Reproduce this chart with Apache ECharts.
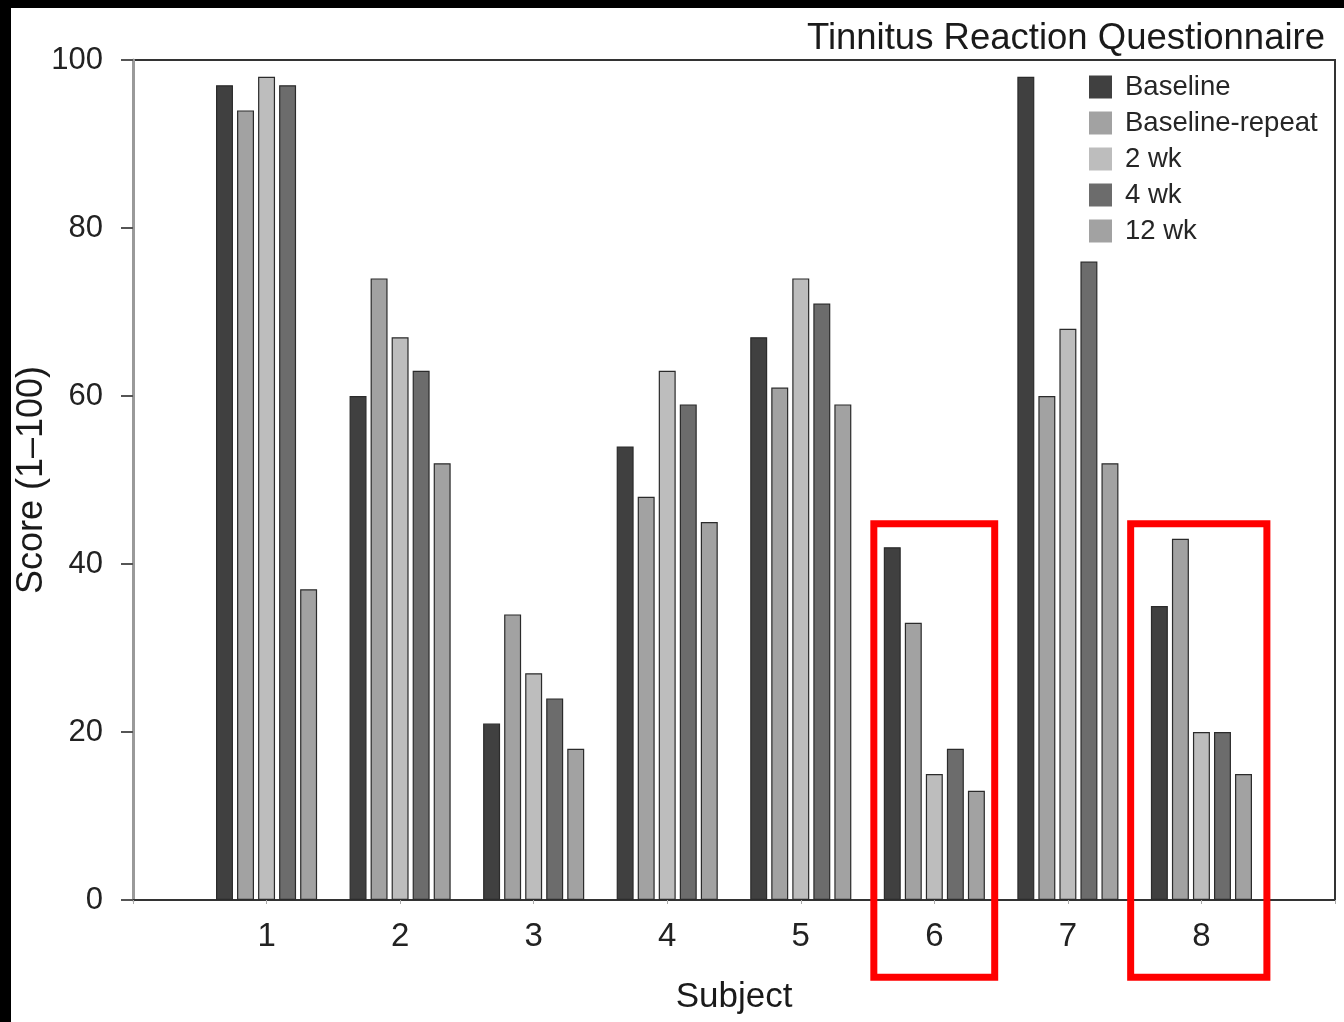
<!DOCTYPE html>
<html>
<head>
<meta charset="utf-8">
<script src="https://cdn.jsdelivr.net/npm/echarts@6/dist/echarts.min.js"></script>
<style>
  html, body { margin: 0; padding: 0; background: #000; }
  #chart { position: absolute; left: 11px; top: 8px; width: 1333px; height: 1014px; background: #fff; }
</style>
</head>
<body>
<div id="chart"></div>
<script>
// ---- data ----
const subjects = ['', '1', '2', '3', '4', '5', '6', '7', '8', ''];
const seriesNames = ['Baseline', 'Baseline-repeat', '2 wk', '4 wk', '12 wk'];
const baseline       = [null, 97, 60, 21, 54, 67, 42, 98, 35, null];
const baselineRepeat = [null, 94, 74, 34, 48, 61, 33, 60, 43, null];
const wk2            = [null, 98, 67, 27, 63, 74, 15, 68, 20, null];
const wk4            = [null, 97, 63, 24, 59, 71, 18, 76, 20, null];
const wk12           = [null, 37, 52, 18, 45, 59, 13, 52, 15, null];
const yTicks = [0, 20, 40, 60, 80, 100];
const highlightedSubjects = ['6', '8'];

const seriesValues = [baseline, baselineRepeat, wk2, wk4, wk12];
const colors = ['#404040', '#a2a2a2', '#bdbdbd', '#6c6c6c', '#a2a2a2'];
const FONT = 'Liberation Sans, Arial, sans-serif';

const chart = echarts.init(document.getElementById('chart'));

const option = {
  backgroundColor: '#fff',
  animation: false,
  title: {
    text: 'Tinnitus Reaction Questionnaire',
    right: 14, top: 7,
    textStyle: { fontFamily: FONT, fontSize: 36.5, fontWeight: 'normal', color: '#1a1a1a' }
  },
  legend: {
    orient: 'vertical',
    left: 1073, top: 60,
    itemWidth: 23, itemHeight: 23, itemGap: 8,
    icon: 'rect',
    itemStyle: { borderWidth: 0 },
    textStyle: { fontFamily: FONT, fontSize: 27.5, color: '#262626', padding: [0, 0, 0, 8] },
    data: seriesNames
  },
  grid: {
    left: 122, right: 9, top: 52, bottom: 122,
    outerBoundsMode: 'none',
    containLabel: false,
    show: true, borderColor: '#333', borderWidth: 2, backgroundColor: 'transparent'
  },
  xAxis: {
    type: 'category',
    data: subjects,
    boundaryGap: false,
    name: 'Subject',
    nameLocation: 'middle',
    nameGap: 80,
    nameMoveOverlap: false,
    nameTextStyle: { fontFamily: FONT, fontSize: 35, color: '#1a1a1a' },
    axisLine: { lineStyle: { color: '#333', width: 2 } },
    axisTick: { show: true, length: 4, lineStyle: { color: '#aaa' } },
    axisLabel: { fontFamily: FONT, fontSize: 33, color: '#222', margin: 20, interval: 0 },
    splitLine: { show: false }
  },
  yAxis: {
    type: 'value',
    min: 0, max: 100, interval: 20,
    name: 'Score (1\u2013100)',
    nameLocation: 'middle',
    nameGap: 83,
    nameMoveOverlap: false,
    nameTextStyle: { fontFamily: FONT, fontSize: 36, color: '#1a1a1a' },
    axisLine: { show: true, lineStyle: { color: '#9a9a9a', width: 3 } },
    axisTick: { show: true, length: 12, lineStyle: { color: '#555', width: 2 } },
    axisLabel: {
      fontFamily: FONT, fontSize: 31, color: '#222', margin: 30,
      formatter: v => (yTicks.indexOf(v) >= 0 ? String(v) : '')
    },
    splitLine: { show: false }
  },
  series: seriesNames.map((name, i) => ({
    name,
    type: 'bar',
    data: seriesValues[i],
    barWidth: '12.7%',
    barGap: '24%',
    itemStyle: { color: colors[i], borderColor: '#2b2b2b', borderWidth: 1.2 }
  }))
};

chart.setOption(option);

// annotation boxes around highlighted subjects
function boxFor(cat, leftFrac, rightFrac) {
  const idx = subjects.indexOf(cat);
  const px = chart.convertToPixel({ xAxisIndex: 0 }, idx);
  const band = chart.convertToPixel({ xAxisIndex: 0 }, idx + 1) - px;
  const top = chart.convertToPixel({ yAxisIndex: 0 }, 44.8);
  const bottom = chart.convertToPixel({ yAxisIndex: 0 }, -9.2);
  const x1 = px - leftFrac * band, x2 = px + rightFrac * band;
  return {
    type: 'rect',
    shape: { x: x1, y: top, width: x2 - x1, height: bottom - top },
    style: { fill: 'none', stroke: '#ff0000', lineWidth: 7 },
    z: 100
  };
}
const fracs = { '6': [0.453, 0.452], '8': [0.53, 0.49] };
chart.setOption({
  graphic: highlightedSubjects.map(s => boxFor(s, fracs[s][0], fracs[s][1]))
});
</script>
</body>
</html>
